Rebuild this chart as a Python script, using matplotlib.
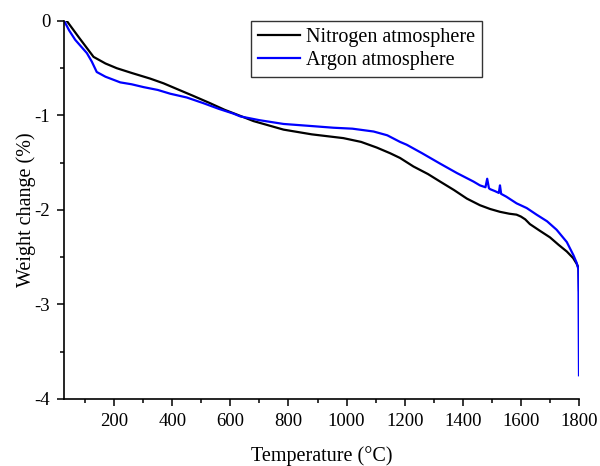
import numpy as np
import matplotlib
matplotlib.use("Agg")
import matplotlib.pyplot as plt
from matplotlib.ticker import MultipleLocator

# Nitrogen atmosphere (black)
n2_temp = [37, 80, 129, 170, 209, 260, 324, 370, 416, 470, 530, 580, 622, 680,
           783, 880, 989, 1050, 1104, 1150, 1184, 1230, 1280, 1322, 1370, 1414,
           1459, 1494, 1528, 1560, 1585, 1600, 1615, 1631, 1665, 1700, 1730,
           1758, 1780, 1792, 1798, 1800]
n2_weight = [0.0, -0.18, -0.38, -0.45, -0.50, -0.55, -0.61, -0.66, -0.72, -0.79,
             -0.87, -0.94, -0.99, -1.06, -1.15, -1.20, -1.24, -1.28, -1.34,
             -1.40, -1.45, -1.54, -1.62, -1.70, -1.79, -1.88, -1.95, -1.99,
             -2.02, -2.04, -2.05, -2.07, -2.10, -2.15, -2.22, -2.29, -2.37,
             -2.44, -2.51, -2.57, -2.61, -2.85]

# Argon atmosphere (blue)
ar_temp = [28, 45, 66, 86, 106, 123, 140, 170, 221, 260, 301, 350, 393, 450,
           507, 560, 610, 634, 700, 783, 870, 955, 1020, 1093, 1140, 1184, 1207,
           1260, 1322, 1380, 1437, 1459, 1478, 1484, 1490, 1494, 1510, 1524,
           1528, 1532, 1550, 1585, 1620, 1654, 1690, 1723, 1758, 1781, 1792,
           1798, 1800]
ar_weight = [0.0, -0.10, -0.20, -0.27, -0.34, -0.43, -0.54, -0.59, -0.65, -0.67,
             -0.70, -0.73, -0.77, -0.81, -0.87, -0.93, -0.98, -1.01, -1.05,
             -1.09, -1.11, -1.13, -1.14, -1.17, -1.21, -1.28, -1.31, -1.40,
             -1.51, -1.61, -1.70, -1.74, -1.76, -1.67, -1.77, -1.78, -1.80,
             -1.82, -1.74, -1.83, -1.86, -1.93, -1.98, -2.05, -2.12, -2.21,
             -2.34, -2.48, -2.56, -2.63, -3.75]

plt.rcParams["font.family"] = ["Liberation Serif", "DejaVu Serif"]
plt.rcParams["axes.unicode_minus"] = False

fig = plt.figure(figsize=(6.0, 4.66), dpi=100)
ax = fig.add_axes([0.107, 0.144, 0.858, 0.811])

ax.plot(n2_temp, n2_weight, color="black", lw=1.6, label="Nitrogen atmosphere")
ax.plot(ar_temp, ar_weight, color="#0000ff", lw=1.6, label="Argon atmosphere")

ax.set_xlim(28, 1800)
ax.set_ylim(-4, 0)
ax.set_xticks([200, 400, 600, 800, 1000, 1200, 1400, 1600, 1800])
ax.xaxis.set_minor_locator(MultipleLocator(100))
ax.set_yticks([0, -1, -2, -3, -4])
ax.yaxis.set_minor_locator(MultipleLocator(0.5))

for side in ["top", "right"]:
    ax.spines[side].set_visible(False)
for side in ["left", "bottom"]:
    ax.spines[side].set_linewidth(1.2)

ax.tick_params(which="major", direction="out", length=5, width=1.1,
               labelsize=13.5, pad=5)
ax.tick_params(which="minor", direction="out", length=3, width=1.1)

ax.set_xlabel("Temperature (°C)", fontsize=14.5, labelpad=12)
ax.set_ylabel("Weight change (%)", fontsize=14.5, labelpad=-1)

leg = ax.legend(loc="upper left", bbox_to_anchor=(0.362, 1.0), fontsize=14.5,
                frameon=True, fancybox=False, edgecolor="black",
                handlelength=2.1, handletextpad=0.3, borderpad=0.35,
                labelspacing=0.2, borderaxespad=0.0)
leg.get_frame().set_linewidth(1.0)

fig.savefig("out.png", dpi=100)
